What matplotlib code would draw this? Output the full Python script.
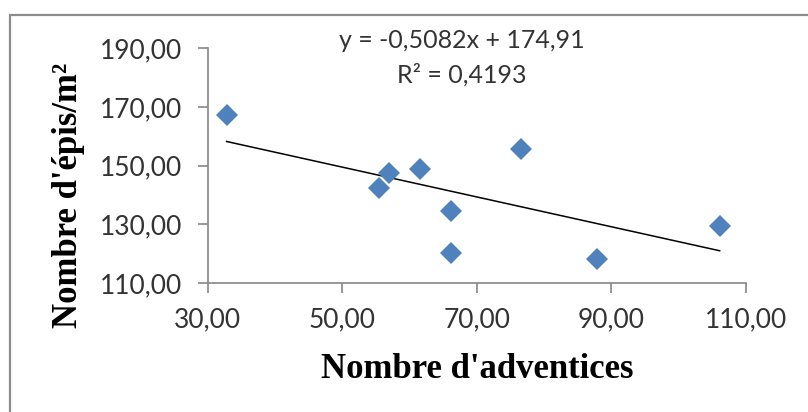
import matplotlib
matplotlib.use("Agg")
import matplotlib.pyplot as plt
from matplotlib.patches import Rectangle
import numpy as np

# Data
adventices = [32.8, 55.5, 56.9, 61.6, 66.1, 66.1, 76.6, 87.8, 106.1]
epis = [167.4, 142.5, 147.6, 148.7, 134.7, 120.1, 155.8, 118.1, 129.4]
slope = -0.5082
intercept = 174.91
r2_text = "R² = 0,4193"
eq_text = "y = -0,5082x + 174,91"
x_ticks = [30, 50, 70, 90, 110]
y_ticks = [110, 130, 150, 170, 190]
x_label = "Nombre d'adventices"
y_label = "Nombre d'épis/m²"

W, H = 808, 412
fig = plt.figure(figsize=(W / 100, H / 100), dpi=100)
fig.patch.set_facecolor("white")

# outer frame (top and left visible)
fig.patches.append(Rectangle((10 / W, -0.1), 1.2, 1 - 15 / H + 0.1,
                             transform=fig.transFigure, fill=False,
                             edgecolor="#8c8c8c", linewidth=1.6))

ax = fig.add_axes([207.7 / W, 1 - 283 / H, (745.9 - 207.7) / W, (283 - 48.3) / H])
ax.set_xlim(30, 110)
ax.set_ylim(110, 190)

ax.plot(adventices, epis, linestyle="none", marker="D", markersize=11,
        color="#4F81BD", markeredgewidth=0, zorder=3)

xs = np.array([min(adventices), max(adventices)])
ax.plot(xs, slope * xs + intercept, color="black", linewidth=1.1, zorder=2)

for s in ["top", "right"]:
    ax.spines[s].set_visible(False)
for s in ["left", "bottom"]:
    ax.spines[s].set_color("#868686")
    ax.spines[s].set_linewidth(1.2)

fmt = lambda v: f"{v:.2f}".replace(".", ",")
ax.set_xticks(x_ticks)
ax.set_xticklabels([fmt(v) for v in x_ticks])
ax.set_yticks(y_ticks)
ax.set_yticklabels([fmt(v) for v in y_ticks])
ax.tick_params(direction="out", length=7.5, width=1.2, color="#868686",
               labelsize=19, labelcolor="#333333")
ax.tick_params(axis="y", pad=11)
ax.tick_params(axis="x", pad=10)
for lab in ax.get_xticklabels() + ax.get_yticklabels():
    lab.set_family("Lato")

ax.set_xlabel(x_label, family="Liberation Serif", fontweight="bold", fontsize=25)
ax.xaxis.set_label_coords(0.5, (283 - 370) / 234.7)
ax.xaxis.label.set_va("center")
ax.set_ylabel(y_label, family="Liberation Serif", fontweight="bold", fontsize=25)
ax.yaxis.set_label_coords((68 - 207.7) / 538.2, (283 - 195) / 234.7)
ax.yaxis.label.set_va("center")
ax.yaxis.label.set_ha("center")

fig.text(462 / W, 1 - 40 / H, eq_text, family="Lato", fontsize=18,
         color="#333333", ha="center", va="center")
fig.text(462 / W, 1 - 75 / H, r2_text, family="Lato", fontsize=18,
         color="#333333", ha="center", va="center")

fig.savefig("out.png", dpi=100)
